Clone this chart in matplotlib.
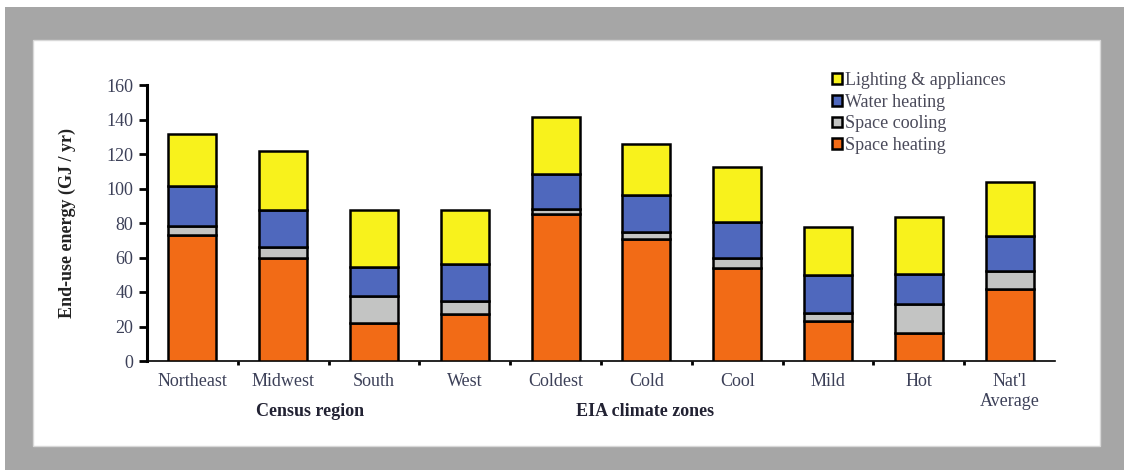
import matplotlib
matplotlib.use("Agg")
import matplotlib.pyplot as plt
from matplotlib.patches import Rectangle
import numpy as np

categories = ["Northeast", "Midwest", "South", "West", "Coldest", "Cold", "Cool", "Mild", "Hot", "Nat'l\nAverage"]
space_heating = [73, 60, 22, 27, 85.5, 71, 54, 23, 16, 42]
space_cooling = [5.5, 6, 15.5, 8, 2.5, 3.5, 6, 5, 17, 10]
water_heating = [23, 21.5, 17, 21.5, 20.5, 22, 20.5, 22, 17.5, 20.5]
lighting_appliances = [30, 34, 33, 31, 33, 29.5, 32, 27.5, 33, 31.5]
series_names = ["Space heating", "Space cooling", "Water heating", "Lighting & appliances"]
colors = ["#f26b16", "#c3c4c3", "#4f68bd", "#f8f21c"]
yticks = [0, 20, 40, 60, 80, 100, 120, 140, 160]
group_labels = ["Census region", "EIA climate zones"]

plt.rcParams['font.family'] = ['Liberation Serif', 'DejaVu Serif']
txtcol = "#3c4058"

fig = plt.figure(figsize=(11.24, 4.70), dpi=100)
fig.patch.set_facecolor("white")
W, H = 1124, 470
fig.patches.append(Rectangle((5 / W, 0), 1 - 5 / W, (H - 7) / H, transform=fig.transFigure,
                             facecolor="#a6a6a6", edgecolor="none", zorder=-3))
fig.patches.append(Rectangle((33 / W, (H - 446) / H), 1067 / W, 406 / H, transform=fig.transFigure,
                             facecolor="white", edgecolor="#d8d8d8", lw=1, zorder=-2))

ax = fig.add_axes([147 / W, (H - 361) / H, 908 / W, 276 / H])
ax.set_zorder(2)
ax.set_facecolor("none")
x = np.arange(len(categories))
series = [space_heating, space_cooling, water_heating, lighting_appliances]
bottom = np.zeros(len(categories))
handles = []
for vals, name, c in zip(series, series_names, colors):
    b = ax.bar(x, vals, bottom=bottom, width=0.53, color=c, edgecolor="black", linewidth=1.8, label=name, zorder=3)
    handles.append(b)
    bottom += np.array(vals)

ax.set_xlim(-0.5, len(categories) - 0.5)
ax.set_ylim(0, 160)
ax.set_yticks(yticks)
ax.tick_params(axis="y", direction="out", length=6, width=2, labelsize=13, labelcolor=txtcol, pad=4)
ax.set_xticks(np.arange(len(categories) - 1) + 0.5)
ax.set_xticklabels([])
ax.tick_params(axis="x", which="major", direction="out", length=3, width=2)
ax.set_xticks(x, minor=True)
ax.set_xticklabels(categories, minor=True, fontsize=13, color=txtcol, linespacing=1.2)
ax.tick_params(axis="x", which="minor", length=0, pad=9)
for s in ["top", "right"]:
    ax.spines[s].set_visible(False)
ax.spines["left"].set_linewidth(2.2)
ax.spines["bottom"].set_linewidth(1.2)

ax.set_ylabel("End-use energy (GJ / yr)", fontsize=13, fontweight="bold", color="#222222", labelpad=22)

fig.text(310 / W, (H - 411) / H, group_labels[0], ha="center", va="center", fontsize=13, fontweight="bold", color="#222233")
fig.text(645 / W, (H - 411) / H, group_labels[1], ha="center", va="center", fontsize=13, fontweight="bold", color="#222233")

leg = ax.legend(handles[::-1], series_names[::-1], loc="upper left", bbox_to_anchor=(823 / W, (H - 63) / H),
                bbox_transform=fig.transFigure, frameon=False, fontsize=13, handlelength=0.55, handleheight=0.55,
                handletextpad=0.15, labelspacing=0.26, borderpad=0)
for t in leg.get_texts():
    t.set_color("#4a4a5a")

fig.savefig("out.png", dpi=100)
